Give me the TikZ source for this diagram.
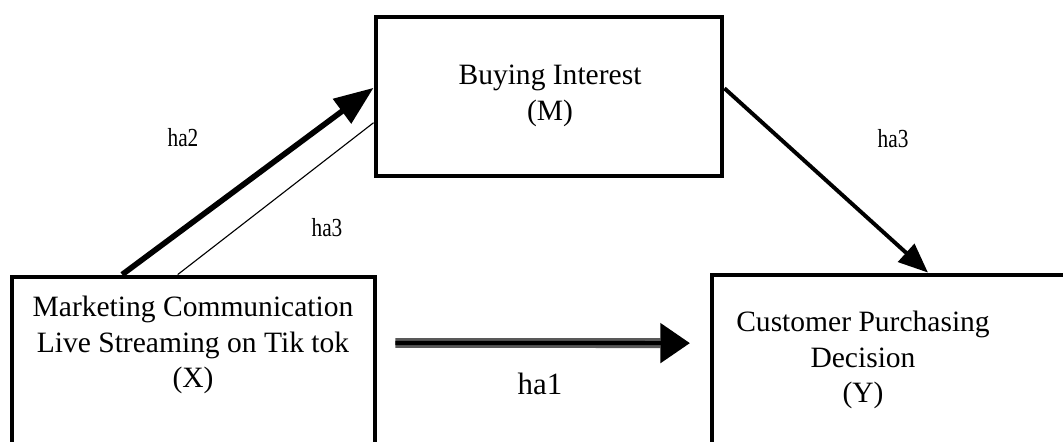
\documentclass[tikz,border=0pt]{standalone}
\usepackage{fontspec}
\setmainfont{Liberation Serif}
\usetikzlibrary{arrows.meta,calc}

\begin{document}
\begin{tikzpicture}[x=0.025cm, y=-0.025cm,
    box/.style={rectangle, draw, line width=3.4pt, inner sep=0pt},
    boxtext/.style={align=center, font=\fontsize{21}{25.5}\selectfont},
    hlabel/.style={font=\fontsize{18.5}{20}\selectfont}]
    \useasboundingbox (0,0) rectangle (1063,441);
    \clip (0,0) rectangle (1063,441);

    % boxes (X and Y run past the lower edge)
    \node [box, minimum width=9.075cm, minimum height=5.575cm] (X) at (193.5,388.5) {};
    \node [box, minimum width=8.65cm, minimum height=3.975cm] (M) at (549,96.5) {};
    \node [box, minimum width=10.2cm, minimum height=5.625cm] (Y) at (916,387.5) {};

    \node [boxtext] (Xt) at (193,345) {Marketing Communication\\Live Streaming on Tik tok\\(X)};
    \node [boxtext] (Mt) at (550,96) {Buying Interest\\(M)};
    \node [boxtext] (Yt) at (863,360) {Customer Purchasing\\Decision\\(Y)};

    % paths
    \draw [line width=4pt, -{Triangle[length=28pt, width=21pt]}]
      ($(X.north west)!0.306!(X.north east)$) to ($(M.north west)!0.447!(M.south west)$);
    \draw [line width=0.8pt]
      ($(X.north west)!0.457!(X.north east)$) to ($(M.north west)!0.66!(M.south west)$);
    \draw [line width=2.8pt, -{Triangle[length=21pt, width=17pt]}]
      ($(M.north east)!0.45!(M.south east)$) to ($(Y.north west)!0.529!(Y.north east)$);
    \draw [line width=7pt, black!65, shorten <=12.8pt, shorten >=35pt]
      ($(X.north east)!0.3!(X.south east)$) to ($(Y.north west)!0.307!(Y.south west)$);
    \draw [line width=3pt, shorten <=12.8pt, shorten >=14pt, -{Triangle[length=21pt, width=28pt]}]
      ($(X.north east)!0.3!(X.south east)$) to ($(Y.north west)!0.307!(Y.south west)$);

    % labels
    \node [hlabel] (l2) at (183,138) {\scalebox{0.82}[1]{ha2}};
    \node [hlabel] (l3a) at (327,228) {\scalebox{0.82}[1]{ha3}};
    \node [hlabel] (l3b) at (893,139) {\scalebox{0.82}[1]{ha3}};
    \node [font=\fontsize{22}{24}\selectfont] (l1) at (540,384) {ha1};
\end{tikzpicture}
\end{document}
